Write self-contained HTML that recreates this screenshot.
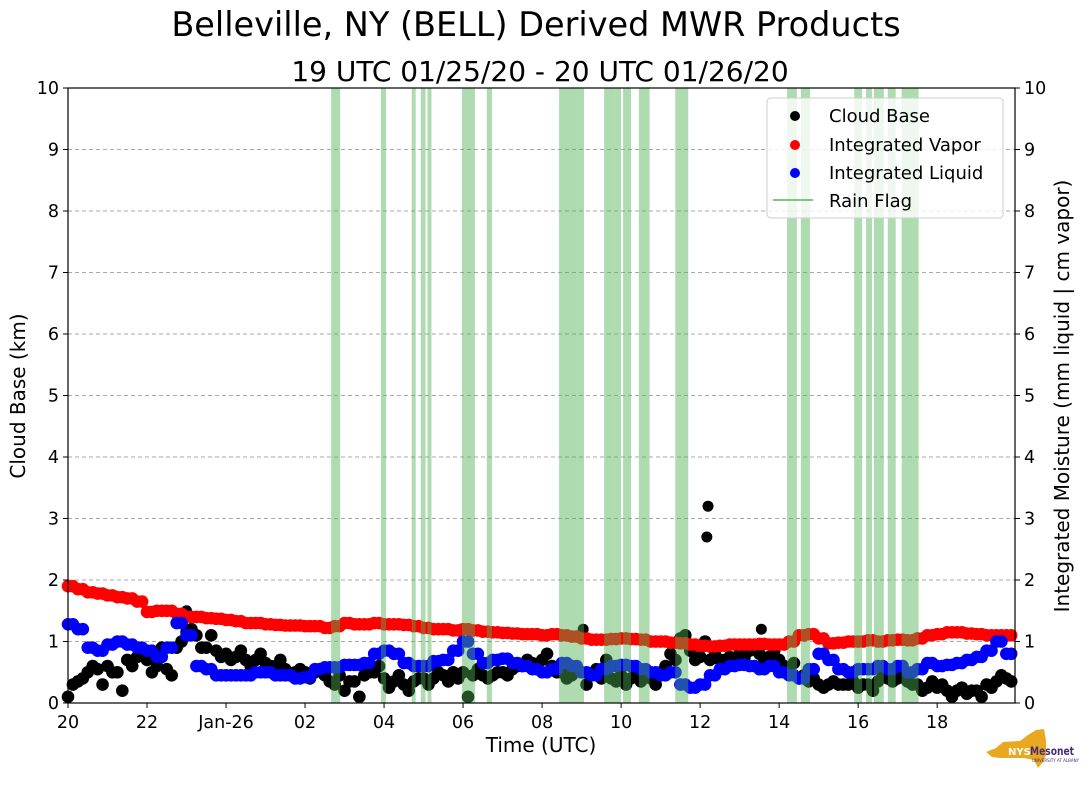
<!DOCTYPE html>
<html><head><meta charset="utf-8"><style>
body{margin:0;background:#fff;}
svg{display:block;font-family:"DejaVu Sans","Liberation Sans",sans-serif;}
</style></head><body>
<svg id="c" width="1089" height="804" viewBox="0 0 1089 804">
<text x="536" y="36" font-size="33.5" text-anchor="middle">Belleville, NY (BELL) Derived MWR Products</text>
<text x="540" y="81" font-size="28" text-anchor="middle">19 UTC 01/25/20 - 20 UTC 01/26/20</text>
<g id="grid"></g><g id="pts"></g><g id="rain"></g><g id="axes"></g>
<text transform="translate(25,396) rotate(-90)" font-size="20" text-anchor="middle">Cloud Base (km)</text>
<text transform="translate(1069,396) rotate(-90)" font-size="20" text-anchor="middle">Integrated Moisture (mm liquid | cm vapor)</text>
<text x="541" y="752" font-size="20" text-anchor="middle">Time (UTC)</text>
<g>
<rect x="767" y="98" width="236" height="120" rx="4" fill="#fff" fill-opacity="0.8" stroke="#ccc"/>
<circle cx="795" cy="116" r="5" fill="#000"/><text x="829" y="122" font-size="18">Cloud Base</text>
<circle cx="795" cy="145" r="5" fill="#f00"/><text x="829" y="151" font-size="18">Integrated Vapor</text>
<circle cx="795" cy="173" r="5" fill="#00f"/><text x="829" y="179" font-size="18">Integrated Liquid</text>
<line x1="773" y1="200" x2="813" y2="200" stroke="#7fc47f" stroke-width="2"/><text x="829" y="207" font-size="18">Rain Flag</text>
</g>
<g>
<path d="M1003 742 L1020 741 L1028 735 L1036 730 L1044 729 L1046 740 L1046 755 L1043 762 L1038 768 L1034 760 L1024 758 L1000 758 L992 757 L986 752 L996 748 Z" fill="#e9a81f"/>
<text x="1008" y="755" font-size="10" font-weight="bold" fill="#fff">NYS</text>
<text x="1030" y="755" font-size="11.5" font-weight="bold" fill="#4b2a73" textLength="44" lengthAdjust="spacingAndGlyphs">Mesonet</text>
<text x="1032" y="762" font-size="4" fill="#4b2a73">UNIVERSITY AT ALBANY</text>
</g>
</svg>
<script>
const xTicks=[0,2,4,6,8,10,12,14,16,18,20,22];
const xTickLabels=["20","22","Jan-26","02","04","06","08","10","12","14","16","18"];
const yTicks=[0,1,2,3,4,5,6,7,8,9,10];
const vapor=[1.9,1.85,1.8,1.78,1.75,1.72,1.7,1.65,1.48,1.5,1.5,1.45,1.4,1.4,1.38,1.37,1.35,1.33,1.3,1.3,1.28,1.27,1.26,1.26,1.25,1.25,1.22,1.25,1.3,1.28,1.28,1.3,1.28,1.28,1.27,1.25,1.22,1.2,1.2,1.18,1.2,1.18,1.16,1.15,1.14,1.13,1.12,1.12,1.1,1.12,1.1,1.08,1.05,1.03,1.03,1.04,1.05,1.04,1.03,1.0,1.0,0.98,0.97,0.95,0.93,0.92,0.93,0.95,0.95,0.95,0.96,0.95,0.95,1.0,1.1,1.12,1.05,0.97,0.98,1.0,1.0,1.02,1.0,1.02,1.03,1.02,1.05,1.1,1.12,1.15,1.15,1.13,1.12,1.1,1.1,1.1];
const liquid=[1.28,1.2,0.9,0.85,0.95,1.0,0.95,0.9,0.85,0.75,0.9,1.3,1.1,0.6,0.55,0.45,0.45,0.45,0.45,0.5,0.5,0.45,0.45,0.4,0.42,0.55,0.58,0.58,0.62,0.62,0.65,0.8,0.85,0.8,0.65,0.6,0.6,0.68,0.7,0.85,1.0,0.8,0.65,0.7,0.72,0.65,0.6,0.55,0.5,0.55,0.65,0.6,0.5,0.45,0.55,0.6,0.62,0.6,0.55,0.5,0.45,0.5,0.3,0.25,0.3,0.45,0.55,0.6,0.62,0.6,0.55,0.6,0.5,0.45,0.4,0.55,0.8,0.7,0.55,0.5,0.55,0.55,0.6,0.55,0.6,0.5,0.55,0.65,0.6,0.62,0.65,0.7,0.75,0.85,1.0,0.8];
const cloudBase=[0.1,0.35,0.5,0.55,0.6,0.5,0.7,0.75,0.7,0.6,0.55,0.9,1.15,1.1,0.9,0.85,0.8,0.75,0.7,0.7,0.65,0.6,0.55,0.5,0.5,0.5,0.45,0.3,0.2,0.35,0.45,0.5,0.4,0.35,0.3,0.35,0.4,0.4,0.45,0.5,0.5,0.45,0.45,0.45,0.5,0.55,0.6,0.65,0.7,0.6,0.5,0.45,0.5,0.45,0.4,0.4,0.45,0.4,0.35,0.4,0.5,0.8,1.05,0.85,0.75,0.7,0.7,0.75,0.8,0.85,0.8,0.75,0.7,0.5,0.4,0.35,0.3,0.3,0.3,0.3,0.25,0.3,0.35,0.4,0.4,0.35,0.3,0.25,0.25,0.2,0.2,0.15,0.2,0.3,0.35,0.4];
const cloudBase2=[0.3,0.4,0.6,0.3,0.5,0.2,0.6,0.8,0.5,0.9,0.45,1.0,1.2,0.9,1.1,0.75,0.7,0.85,0.6,0.8,0.6,0.7,0.45,0.55,0.4,0.55,0.35,0.45,0.35,0.1,0.5,0.6,0.25,0.45,0.2,0.4,0.3,0.5,0.35,0.4,0.1,0.55,0.4,0.5,0.45,0.6,0.7,0.55,0.8,0.5,0.4,0.55,0.3,0.55,0.7,0.35,0.3,0.5,0.45,0.3,0.6,0.7,1.1,0.7,1.0,0.8,0.7,0.65,0.75,0.9,0.7,0.85,0.6,0.65,0.45,0.4,0.25,0.35,0.3,0.35,0.3,0.2,0.45,0.35,0.55,0.3,0.2,0.35,0.3,0.1,0.25,0.2,0.1,0.25,0.45,0.35];
const cloudOutlierHours=[3.0,13.04,16.17,16.2,17.55];
const cloudOutlierValues=[1.5,1.2,2.7,3.2,1.2];
const rainStart=[6.66,7.92,8.7,8.93,9.1,9.97,10.6,12.43,13.57,13.85,14.05,14.45,15.37,18.2,18.55,19.9,20.2,20.4,20.75,21.1];
const rainEnd=[6.89,8.05,8.8,9.05,9.2,10.3,10.73,13.06,13.85,14.0,14.25,14.72,15.7,18.45,18.78,20.1,20.35,20.65,20.95,21.53];
const X0=68,X1=1015,Y0=703,Y1=88,HMAX=23.97;
const xs=h=>X0+(X1-X0)*h/HMAX, ys=v=>Y0-(Y0-Y1)*v/10;
const NS='http://www.w3.org/2000/svg';
function mk(p,t,a){const e=document.createElementNS(NS,t);for(const k in a)e.setAttribute(k,a[k]);p.appendChild(e);return e;}
const grid=document.getElementById('grid'),pts=document.getElementById('pts'),rain=document.getElementById('rain'),ax=document.getElementById('axes');
yTicks.forEach(v=>{if(v>0&&v<10){const l=mk(grid,'line',{x1:X0,x2:X1,y1:ys(v),y2:ys(v),stroke:'#aaa','stroke-dasharray':'4,3'});

}});
function series(arr,col,name,off){arr.forEach((v,i)=>{const c=mk(pts,'circle',{cx:xs(i*0.25+off),cy:ys(v),r:6.3,fill:col});

});}
series(cloudBase,'#000','cloud-base-point',0);
series(cloudBase2,'#000','cloud-base-point',0.125);
cloudOutlierHours.forEach((h,i)=>{const c=mk(pts,'circle',{cx:xs(h),cy:ys(cloudOutlierValues[i]),r:5.5,fill:'#000'});

});
series(vapor,'#f00','vapor-point',0);
series(vapor,'#f00','vapor-point',0.125);
series(liquid,'#00f','liquid-point',0);
series(liquid,'#00f','liquid-point',0.125);
rainStart.forEach((s,i)=>{const r=mk(rain,'rect',{x:xs(s),y:Y1,width:Math.max(2,xs(rainEnd[i])-xs(s)),height:Y0-Y1,fill:'#4caf50','fill-opacity':0.45});

});
const fr=mk(ax,'rect',{x:X0,y:Y1,width:X1-X0,height:Y0-Y1,fill:'none',stroke:'#000','stroke-width':1.2});


yTicks.forEach(v=>{mk(ax,'line',{x1:X0-5,x2:X0,y1:ys(v),y2:ys(v),stroke:'#000'});mk(ax,'line',{x1:X1,x2:X1+5,y1:ys(v),y2:ys(v),stroke:'#000'});
const t=mk(ax,'text',{x:X0-9,y:ys(v)+6,'font-size':17.5,'text-anchor':'end'});t.textContent=v;


const t2=mk(ax,'text',{x:X1+9,y:ys(v)+6,'font-size':17.5});t2.textContent=v;

});
xTicks.forEach((h,i)=>{mk(ax,'line',{x1:xs(h),x2:xs(h),y1:Y0,y2:Y0+5,stroke:'#000'});
const t=mk(ax,'text',{x:xs(h),y:Y0+25,'font-size':17.5,'text-anchor':'middle'});t.textContent=xTickLabels[i];

});
</script>
</body></html>
